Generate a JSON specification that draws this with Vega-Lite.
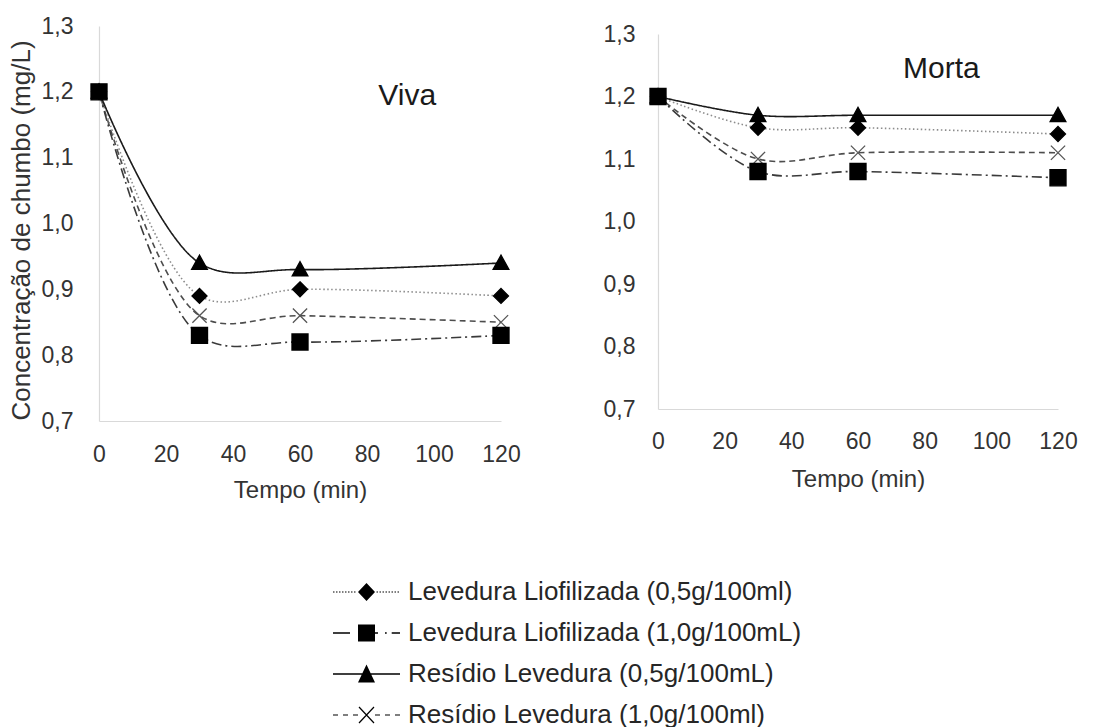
{
  "$schema": "https://vega.github.io/schema/vega-lite/v6.json",
  "background": "white",
  "padding": {"left": 8, "top": 15, "right": 5, "bottom": 5},
  "config": {
    "view": {"stroke": null},
    "font": "Liberation Sans",
    "axis": {
      "labelFont": "Liberation Sans",
      "titleFont": "Liberation Sans",
      "labelColor": "#333333",
      "titleColor": "#333333",
      "titleFontWeight": "normal",
      "labelFontSize": 23,
      "titleFontSize": 24,
      "grid": false,
      "ticks": false,
      "domainColor": "#d9d9d9",
      "domainWidth": 1.2,
      "labelFlush": false,
      "labelOverlap": false
    }
  },
  "datasets": {
    "viva": [
      {"series": "Resídio Levedura (1,0g/100ml)", "tempo": 0, "conc": 1.2},
      {"series": "Resídio Levedura (1,0g/100ml)", "tempo": 30, "conc": 0.86},
      {"series": "Resídio Levedura (1,0g/100ml)", "tempo": 60, "conc": 0.86},
      {"series": "Resídio Levedura (1,0g/100ml)", "tempo": 120, "conc": 0.85},
      {"series": "Levedura Liofilizada (0,5g/100ml)", "tempo": 0, "conc": 1.2},
      {"series": "Levedura Liofilizada (0,5g/100ml)", "tempo": 30, "conc": 0.89},
      {"series": "Levedura Liofilizada (0,5g/100ml)", "tempo": 60, "conc": 0.9},
      {"series": "Levedura Liofilizada (0,5g/100ml)", "tempo": 120, "conc": 0.89},
      {"series": "Resídio Levedura (0,5g/100mL)", "tempo": 0, "conc": 1.2},
      {"series": "Resídio Levedura (0,5g/100mL)", "tempo": 30, "conc": 0.94},
      {"series": "Resídio Levedura (0,5g/100mL)", "tempo": 60, "conc": 0.93},
      {"series": "Resídio Levedura (0,5g/100mL)", "tempo": 120, "conc": 0.94},
      {"series": "Levedura Liofilizada (1,0g/100mL)", "tempo": 0, "conc": 1.2},
      {"series": "Levedura Liofilizada (1,0g/100mL)", "tempo": 30, "conc": 0.83},
      {"series": "Levedura Liofilizada (1,0g/100mL)", "tempo": 60, "conc": 0.82},
      {"series": "Levedura Liofilizada (1,0g/100mL)", "tempo": 120, "conc": 0.83}
    ],
    "morta": [
      {"series": "Resídio Levedura (1,0g/100ml)", "tempo": 0, "conc": 1.2},
      {"series": "Resídio Levedura (1,0g/100ml)", "tempo": 30, "conc": 1.1},
      {"series": "Resídio Levedura (1,0g/100ml)", "tempo": 60, "conc": 1.11},
      {"series": "Resídio Levedura (1,0g/100ml)", "tempo": 120, "conc": 1.11},
      {"series": "Resídio Levedura (0,5g/100mL)", "tempo": 0, "conc": 1.2},
      {"series": "Resídio Levedura (0,5g/100mL)", "tempo": 30, "conc": 1.17},
      {"series": "Resídio Levedura (0,5g/100mL)", "tempo": 60, "conc": 1.17},
      {"series": "Resídio Levedura (0,5g/100mL)", "tempo": 120, "conc": 1.17},
      {"series": "Levedura Liofilizada (0,5g/100ml)", "tempo": 0, "conc": 1.2},
      {"series": "Levedura Liofilizada (0,5g/100ml)", "tempo": 30, "conc": 1.15},
      {"series": "Levedura Liofilizada (0,5g/100ml)", "tempo": 60, "conc": 1.15},
      {"series": "Levedura Liofilizada (0,5g/100ml)", "tempo": 120, "conc": 1.14},
      {"series": "Levedura Liofilizada (1,0g/100mL)", "tempo": 0, "conc": 1.2},
      {"series": "Levedura Liofilizada (1,0g/100mL)", "tempo": 30, "conc": 1.08},
      {"series": "Levedura Liofilizada (1,0g/100mL)", "tempo": 60, "conc": 1.08},
      {"series": "Levedura Liofilizada (1,0g/100mL)", "tempo": 120, "conc": 1.07}
    ]
  },
  "resolve": {
    "scale": {"shape": "independent", "color": "independent", "strokeDash": "independent", "stroke": "independent"},
    "legend": {"shape": "independent", "color": "independent", "strokeDash": "independent", "stroke": "independent"}
  },
  "vconcat": [
    {
      "resolve": {
        "scale": {"shape": "independent", "color": "independent", "strokeDash": "independent", "stroke": "independent"},
        "legend": {"shape": "independent", "color": "independent", "strokeDash": "independent", "stroke": "independent"}
      },
      "hconcat": [
        {
          "width": 402,
          "height": 395,
          "data": {"name": "viva"},
          "encoding": {
            "x": {"field": "tempo", "type": "quantitative", "scale": {"domain": [0, 120], "nice": false},
              "axis": {"values": [0, 20, 40, 60, 80, 100, 120], "title": "Tempo (min)", "labelPadding": 22, "titlePadding": 12}},
            "y": {"field": "conc", "type": "quantitative", "scale": {"domain": [0.7, 1.3], "nice": false, "zero": false},
              "axis": {"values": [0.7, 0.8, 0.9, 1.0, 1.1, 1.2, 1.3], "labelExpr": "replace(format(datum.value, '.1f'), '.', ',')", "title": "Concentração de chumbo (mg/L)", "titleFontSize": 26, "labelPadding": 26, "titlePadding": 7, "titleY": 204}}
          },
          "layer": [
            {
              "mark": {"type": "line", "interpolate": "catmull-rom", "strokeWidth": 1.6},
              "encoding": {
                "color": {"field": "series", "type": "nominal", "legend": null,
                  "scale": {"domain": ["Levedura Liofilizada (0,5g/100ml)", "Levedura Liofilizada (1,0g/100mL)", "Resídio Levedura (0,5g/100mL)", "Resídio Levedura (1,0g/100ml)"], "range": ["#8c8c8c", "#3a3a3a", "#1a1a1a", "#4d4d4d"]}},
                "strokeDash": {"field": "series", "type": "nominal", "legend": null,
                  "scale": {"domain": ["Levedura Liofilizada (0,5g/100ml)", "Levedura Liofilizada (1,0g/100mL)", "Resídio Levedura (0,5g/100mL)", "Resídio Levedura (1,0g/100ml)"], "range": [[1.5, 2.5], [10, 4, 2, 4], [1, 0], [6, 4]]}}
              }
            },
            {
              "mark": {"type": "point", "filled": true, "fill": "black", "size": 225, "strokeWidth": 1.3, "opacity": 1},
              "encoding": {
                "shape": {"field": "series", "type": "nominal", "legend": null,
                  "scale": {"domain": ["Levedura Liofilizada (0,5g/100ml)", "Levedura Liofilizada (1,0g/100mL)", "Resídio Levedura (0,5g/100mL)", "Resídio Levedura (1,0g/100ml)"],
                    "range": ["M0,-1L1,0L0,1L-1,0Z", "M-1.07,-1.07H1.07V1.07H-1.07Z", "M-1.05,0.85L0,-1.05L1.05,0.85Z", "M-0.95,-0.95L0.95,0.95M-0.95,0.95L0.95,-0.95"]}},
                "stroke": {"field": "series", "type": "nominal", "legend": null,
                  "scale": {"domain": ["Levedura Liofilizada (0,5g/100ml)", "Levedura Liofilizada (1,0g/100mL)", "Resídio Levedura (0,5g/100mL)", "Resídio Levedura (1,0g/100ml)"], "range": ["black", "black", "black", "#555555"]}}
              }
            },
            {
              "data": {"values": [{"label": "Viva", "tempo": 92, "conc": 1.193}]},
              "mark": {"type": "text", "fontSize": 30, "font": "Liberation Sans", "fill": "#1a1a1a"},
              "encoding": {"text": {"field": "label", "type": "nominal"}}
            }
          ]
        },
        {
          "width": 400,
          "height": 383,
          "data": {"name": "morta"},
          "encoding": {
            "x": {"field": "tempo", "type": "quantitative", "scale": {"domain": [0, 120], "nice": false},
              "axis": {"values": [0, 20, 40, 60, 80, 100, 120], "title": "Tempo (min)", "labelPadding": 21, "titlePadding": 14}},
            "y": {"field": "conc", "type": "quantitative", "scale": {"domain": [0.7, 1.3], "range": [383, 8], "nice": false, "zero": false},
              "axis": {"values": [0.7, 0.8, 0.9, 1.0, 1.1, 1.2, 1.3], "labelExpr": "replace(format(datum.value, '.1f'), '.', ',')", "title": null, "labelPadding": 23}}
          },
          "layer": [
            {
              "mark": {"type": "line", "interpolate": "catmull-rom", "strokeWidth": 1.6},
              "encoding": {
                "color": {"field": "series", "type": "nominal", "legend": null,
                  "scale": {"domain": ["Levedura Liofilizada (0,5g/100ml)", "Levedura Liofilizada (1,0g/100mL)", "Resídio Levedura (0,5g/100mL)", "Resídio Levedura (1,0g/100ml)"], "range": ["#8c8c8c", "#3a3a3a", "#1a1a1a", "#4d4d4d"]}},
                "strokeDash": {"field": "series", "type": "nominal", "legend": null,
                  "scale": {"domain": ["Levedura Liofilizada (0,5g/100ml)", "Levedura Liofilizada (1,0g/100mL)", "Resídio Levedura (0,5g/100mL)", "Resídio Levedura (1,0g/100ml)"], "range": [[1.5, 2.5], [10, 4, 2, 4], [1, 0], [6, 4]]}}
              }
            },
            {
              "mark": {"type": "point", "filled": true, "fill": "black", "size": 225, "strokeWidth": 1.3, "opacity": 1},
              "encoding": {
                "shape": {"field": "series", "type": "nominal", "legend": null,
                  "scale": {"domain": ["Levedura Liofilizada (0,5g/100ml)", "Levedura Liofilizada (1,0g/100mL)", "Resídio Levedura (0,5g/100mL)", "Resídio Levedura (1,0g/100ml)"],
                    "range": ["M0,-1L1,0L0,1L-1,0Z", "M-1.07,-1.07H1.07V1.07H-1.07Z", "M-1.05,0.85L0,-1.05L1.05,0.85Z", "M-0.95,-0.95L0.95,0.95M-0.95,0.95L0.95,-0.95"]}},
                "stroke": {"field": "series", "type": "nominal", "legend": null,
                  "scale": {"domain": ["Levedura Liofilizada (0,5g/100ml)", "Levedura Liofilizada (1,0g/100mL)", "Resídio Levedura (0,5g/100mL)", "Resídio Levedura (1,0g/100ml)"], "range": ["black", "black", "black", "#555555"]}}
              }
            },
            {
              "data": {"values": [{"label": "Morta", "tempo": 85, "conc": 1.244}]},
              "mark": {"type": "text", "fontSize": 30, "font": "Liberation Sans", "fill": "#1a1a1a"},
              "encoding": {"text": {"field": "label", "type": "nominal"}}
            }
          ]
        }
      ],
      "spacing": 82,
      "bounds": "full",
      "align": "none"
    },
    {
      "width": 1,
      "height": 1,
      "data": {"name": "viva"},
      "mark": {"type": "point", "filled": true, "fill": "black", "opacity": 0},
      "encoding": {
        "shape": {"field": "series", "type": "nominal",
          "scale": {"domain": ["Levedura Liofilizada (0,5g/100ml)", "Levedura Liofilizada (1,0g/100mL)", "Resídio Levedura (0,5g/100mL)", "Resídio Levedura (1,0g/100ml)"],
            "range": [
              "M-1,-0.06h0.15v0.12h-0.15ZM-0.7,-0.06h0.15v0.12h-0.15ZM-0.4,-0.06h0.15v0.12h-0.15ZM-0.1,-0.06h0.15v0.12h-0.15ZM0.2,-0.06h0.15v0.12h-0.15ZM0.5,-0.06h0.15v0.12h-0.15ZM0.8,-0.06h0.15v0.12h-0.15ZM1.1,-0.06h0.15v0.12h-0.15ZM3.35,-0.06h0.15v0.12h-0.15ZM3.65,-0.06h0.15v0.12h-0.15ZM3.95,-0.06h0.15v0.12h-0.15ZM4.25,-0.06h0.15v0.12h-0.15ZM4.55,-0.06h0.15v0.12h-0.15ZM4.85,-0.06h0.15v0.12h-0.15ZM5.15,-0.06h0.15v0.12h-0.15ZM5.45,-0.06h0.15v0.12h-0.15ZM2.35,-0.9L3.2,0L2.35,0.9L1.5,0Z",
              "M-1,-0.08H0.7V0.08H-1ZM3.2,-0.08H3.5V0.08H3.2ZM4.2,-0.08H4.37V0.08H4.2ZM4.87,-0.08H5.7V0.08H4.87ZM1.5,-0.85H3.2V0.85H1.5Z",
              "M-1,-0.08H5.7V0.08H-1ZM1.5,0.85L2.35,-0.95L3.2,0.85Z",
              "M-1,-0.06H-0.5V0.06H-1ZM0,-0.06H0.5V0.06H0ZM1,-0.06H1.5V0.06H1ZM3.2,-0.06H3.7V0.06H3.2ZM4.2,-0.06H4.7V0.06H4.2ZM5.2,-0.06H5.7V0.06H5.2ZM1.556,-0.759L3.056,0.841L3.144,0.759L1.644,-0.841ZM1.644,0.841L3.144,-0.759L3.056,-0.841L1.556,0.759Z"
            ]},
          "legend": {
            "title": null,
            "orient": "none",
            "legendX": 231,
            "legendY": 4,
            "direction": "vertical",
            "symbolSize": 400,
            "symbolOpacity": 1,
            "symbolFillColor": "black",
            "symbolStrokeWidth": 0,
            "labelFont": "Liberation Sans",
            "labelFontSize": 26,
            "labelColor": "#262626",
            "labelOffset": 52,
            "labelLimit": 0,
            "rowPadding": 15,
            "padding": 0
          }
        }
      }
    }
  ],
  "spacing": 70,
  "align": "none"
}
